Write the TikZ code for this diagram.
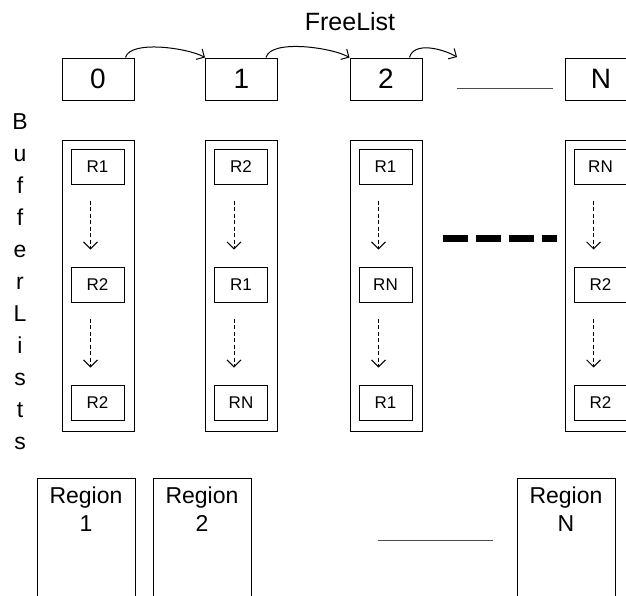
\documentclass[tikz,border=0pt]{standalone}
\usepackage{fontspec}
\setmainfont{Liberation Sans}
\usetikzlibrary{arrows.meta}

\begin{document}
\begin{tikzpicture}%
        [x=1pt, y=-1pt,
        headbox/.style={draw, line width=1pt, minimum width=72pt, minimum height=42pt, inner sep=0pt, font=\fontsize{28}{32}\selectfont},
        listbox/.style={draw, line width=1pt, minimum width=72pt, minimum height=291pt, inner sep=0pt},
        entry/.style={draw, line width=1pt, minimum width=53pt, minimum height=35pt, inner sep=0pt, font=\fontsize{17}{20}\selectfont},
        regionbox/.style={draw, line width=1pt, minimum width=98pt, minimum height=140pt, anchor=north, inner sep=0pt},
        regiontext/.style={anchor=north, yshift=-9pt, inner sep=0pt, align=center, font=\fontsize{23}{28}\selectfont},
        link/.style={line width=1pt, looseness=0.6, -{Straight Barb[length=6pt,width=12pt]}},
        chain/.style={line width=0.9pt, dash pattern=on 4pt off 2.5pt, -{Straight Barb[length=7pt,width=14pt]}},
        gap/.style={line width=0.5pt, black!70},
        bigdash/.style={line width=7pt, dash pattern=on 25pt off 8pt}]

    \clip (0,0) rectangle (626,595);

    %% Drawing the free list heads
    \node[font=\fontsize{25}{30}\selectfont] (freelist) at (350,22) {FreeList};
    \node[headbox] (free0) at (98,79) {0};
    \node[headbox] (free1) at (241.5,79) {1};
    \node[headbox] (free2) at (386,79) {2};
    \node[headbox] (freeN) at (601,79) {N};
    \coordinate (freetail) at (457,57);

    \draw[link] ([xshift=-9pt]free0.north east) to[out=75, in=150] (free1.north west);
    \draw[link] ([xshift=-12pt]free1.north east) to[out=75, in=150] (free2.north west);
    \draw[link, looseness=0.9] ([xshift=-13pt]free2.north east) to[out=75, in=150] (freetail);
    \draw[gap] ([xshift=34pt, yshift=-9pt]free2.east) -- ([xshift=-12pt, yshift=-9pt]freeN.west);

    %% Drawing the buffer lists
    \node[anchor=north, inner sep=0pt, align=center, font=\fontsize{23}{32}\selectfont] (bufferlists) at (20,113)
        {B\\u\\f\\f\\e\\r\\L\\i\\s\\t\\s};

    \node[listbox] (list0) at (98,285.5) {};
    \node[listbox] (list1) at (241.5,285.5) {};
    \node[listbox] (list2) at (386,285.5) {};
    \node[listbox] (listN) at (601,285.5) {};

    \node[entry] (r0a) at (97.5,166.5) {R1};
    \node[entry] (r0b) at (97.5,284.5) {R2};
    \node[entry] (r0c) at (97.5,402.5) {R2};
    \node[entry] (r1a) at (241,166.5) {R2};
    \node[entry] (r1b) at (241,284.5) {R1};
    \node[entry] (r1c) at (241,402.5) {RN};
    \node[entry] (r2a) at (385.5,166.5) {R1};
    \node[entry] (r2b) at (385.5,284.5) {RN};
    \node[entry] (r2c) at (385.5,402.5) {R1};
    \node[entry] (rNa) at (600.5,166.5) {RN};
    \node[entry] (rNb) at (600.5,284.5) {R2};
    \node[entry] (rNc) at (600.5,402.5) {R2};

    \foreach \c in {0,1,2,N}{
        \draw[chain] ([xshift=-7pt, yshift=-16pt]r\c a.south) -- ([xshift=-7pt, yshift=17pt]r\c b.north);
        \draw[chain] ([xshift=-7pt, yshift=-16pt]r\c b.south) -- ([xshift=-7pt, yshift=17pt]r\c c.north);
    }
    \draw[bigdash] ([xshift=20pt, yshift=47pt]list2.east) -- ([xshift=-8pt, yshift=47pt]listN.west);

    %% Drawing the regions
    \node[regionbox, label={[regiontext]north:Region\\1}] (region1) at (86,478) {};
    \node[regionbox, label={[regiontext]north:Region\\2}] (region2) at (202,478) {};
    \node[regionbox, label={[regiontext]north:Region\\N}] (regionN) at (566,478) {};
    \draw[gap] ([xshift=126pt, yshift=-62pt]region2.north east) -- ([xshift=-24pt, yshift=-62pt]regionN.north west);
\end{tikzpicture}
\end{document}
